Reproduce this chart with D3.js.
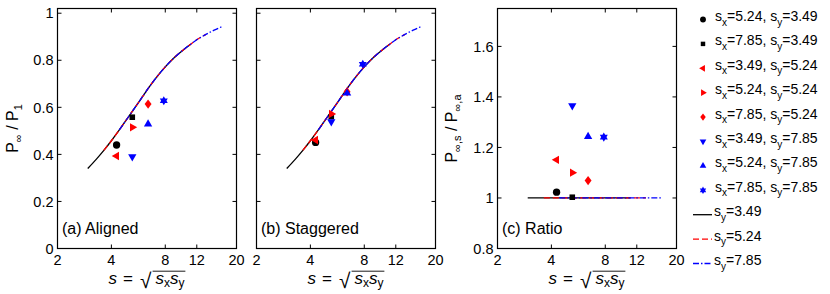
<!DOCTYPE html>
<html>
<head>
<meta charset="utf-8">
<script src="https://cdn.jsdelivr.net/npm/d3@7"></script>
<style>
    html, body { margin: 0; padding: 0; background: #fff; }
    svg { display: block; }
    text { font-family: "Liberation Sans", Arial, Helvetica, sans-serif; fill: #000; }
</style>
</head>
<body>
<div id="chart"></div>
<script>
// measured cases (one entry per marker)
const sx = [5.24, 7.85, 3.49, 5.24, 7.85, 3.49, 5.24, 7.85];
const sy = [3.49, 3.49, 5.24, 5.24, 5.24, 7.85, 7.85, 7.85];
const pAligned = [0.44, 0.558, 0.393, 0.515, 0.614, 0.39, 0.529, 0.628];
const pStaggered = [0.451, 0.56, 0.461, 0.572, 0.666, 0.539, 0.66, 0.783];
const pRatio = [1.023, 1.003, 1.151, 1.10, 1.069, 1.365, 1.243, 1.241];
const markerShapes = ['circle', 'square', 'left', 'right', 'diamond', 'down', 'up', 'hexagram'];
const markerColors = ['#000', '#000', '#f00', '#f00', '#f00', '#00f', '#00f', '#00f'];

// model curve (same for aligned and staggered), ratio of the two is 1
const curveS = [2.95, 3.3, 3.63, 4.0, 4.43, 5.0, 5.5, 6.0, 6.5, 7.0, 8.0, 9.0, 10, 11.05, 12, 13.5, 15, 16.5];
const curveP = [0.34, 0.38, 0.417, 0.458, 0.504, 0.561, 0.606, 0.648, 0.686, 0.719, 0.772, 0.812, 0.842, 0.867, 0.887, 0.91, 0.928, 0.942];
const curveRatio = [1, 1, 1, 1, 1, 1, 1, 1, 1, 1, 1, 1, 1, 1, 1, 1, 1, 1];
const curveSy = ['3.49', '5.24', '7.85'];
const curveRanges = [[2.95, 11.05], [3.63, 13.5], [4.43, 16.5]];
const curveColors = ['#000', '#f00', '#00f'];
const curveDash = [null, '6,3', '6,2,1.5,2'];

const xTicks = [2, 4, 8, 12, 20];
const yTicksP = [0, 0.2, 0.4, 0.6, 0.8, 1];
const yTicksR = [0.8, 1, 1.2, 1.4, 1.6];

const width = 830, height = 294;
const plotTop = 8.5, plotBottom = 248.5;

const svg = d3.select('#chart').append('svg')
    .attr('width', width)
    .attr('height', height);

const measure = document.createElement('canvas').getContext('2d');

const diamond = {
    draw(ctx, s) {
        ctx.moveTo(0, -s);
        ctx.lineTo(s * 0.75, 0);
        ctx.lineTo(0, s);
        ctx.lineTo(-s * 0.75, 0);
        ctx.closePath();
    }
};
const hexagram = {
    draw(ctx, s) {
        for (let i = 0; i < 12; i++) {
            const a = i * Math.PI / 6 - Math.PI / 2;
            const r = i % 2 ? s / Math.sqrt(3) : s;
            if (i === 0) ctx.moveTo(r * Math.cos(a), r * Math.sin(a));
            else ctx.lineTo(r * Math.cos(a), r * Math.sin(a));
        }
        ctx.closePath();
    }
};

function markerPath(shape, k) {
    switch (shape) {
        case 'circle': return d3.symbol(d3.symbolCircle, 42 * k * k)();
        case 'square': return d3.symbol(d3.symbolSquare, 31 * k * k)();
        case 'diamond': return d3.symbol(diamond, 4.6 * k)();
        case 'hexagram': return d3.symbol(hexagram, 4.6 * k)();
        default: return d3.symbol(d3.symbolTriangle, 30 * k * k)();
    }
}
const markerRotate = {left: -90, right: 90, down: 180, up: 0};

// s = sqrt(s_x s_y), laid out piece by piece
function drawXLabel(g, cx) {
    const serif = '"Liberation Serif", "DejaVu Serif", serif';
    const radFont = '"DejaVu Serif", serif';
    const baseY = 284;
    const xl = g.append('g');

    const s1 = xl.append('text').attr('x', 0).attr('y', baseY)
        .attr('font-family', serif).attr('font-size', 17).attr('font-style', 'italic').text('s');
    let cur = s1.node().getComputedTextLength() + 6;

    const eq = xl.append('text').attr('x', cur).attr('y', baseY)
        .attr('font-family', serif).attr('font-size', 17).text('=');
    cur += eq.node().getComputedTextLength() + 7;

    // size the root sign so its font box starts just under the tick labels
    measure.font = `100px ${radFont}`;
    const m = measure.measureText('\u221A');
    const fAsc = m.fontBoundingBoxAscent / 100;
    const gAsc = m.actualBoundingBoxAscent / 100;
    const gDesc = m.actualBoundingBoxDescent / 100;
    const radSize = 20 / (fAsc + gDesc);
    const radBase = 268.4 + fAsc * radSize;
    const barY = radBase - gAsc * radSize + 0.5;
    xl.append('text').attr('x', cur).attr('y', radBase)
        .attr('font-family', radFont).attr('font-size', radSize).text('\u221A');
    const radRight = cur + m.actualBoundingBoxRight / 100 * radSize;

    const t3 = xl.append('text').attr('x', radRight + 2).attr('y', baseY)
        .attr('font-family', serif).attr('font-size', 17);
    t3.append('tspan').attr('font-style', 'italic').text('s');
    t3.append('tspan').attr('font-size', 12).attr('dy', 2.5).text('x');
    t3.append('tspan').attr('font-style', 'italic').attr('dy', -2.5).text('s');
    t3.append('tspan').attr('font-size', 12).attr('dy', 2.5).text('y');
    const w3 = t3.node().getComputedTextLength();
    xl.append('line')
        .attr('x1', radRight - 0.8).attr('x2', radRight + w3 + 3)
        .attr('y1', barY).attr('y2', barY)
        .attr('stroke', '#000').attr('stroke-width', 0.9);
    const total = radRight + w3 + 3;
    xl.attr('transform', `translate(${cx - total / 2},0)`);
}

function drawPanel(opts) {
    const x = d3.scaleLog().domain([2, 20]).range([opts.left, opts.left + 179]);
    const y = d3.scaleLinear().domain(opts.yDomain).range([plotBottom, plotTop]);
    const g = svg.append('g');

    // curves
    curveSy.forEach((label, i) => {
        const pts = curveS.map((s, j) => ({s: s, v: opts.curve[j]}))
            .filter(d => d.s >= curveRanges[i][0] - 1e-9 && d.s <= curveRanges[i][1] + 1e-9);
        g.append('path')
            .attr('d', d3.line().x(d => x(d.s)).y(d => y(d.v)).curve(d3.curveMonotoneX)(pts))
            .attr('fill', 'none')
            .attr('stroke', curveColors[i])
            .attr('stroke-width', 1.3)
            .attr('stroke-dasharray', curveDash[i]);
    });

    // markers
    opts.values.forEach((v, i) => {
        const s = Math.sqrt(sx[i] * sy[i]);
        const rot = markerRotate[markerShapes[i]];
        g.append('path')
            .attr('d', markerPath(markerShapes[i], 1))
            .attr('transform', `translate(${x(s)},${y(v)})` + (rot ? ` rotate(${rot})` : ''))
            .attr('fill', markerColors[i]);
    });

    // box + inward ticks
    const [x0, x1] = x.range();
    g.append('rect')
        .attr('x', x0).attr('y', plotTop)
        .attr('width', x1 - x0).attr('height', plotBottom - plotTop)
        .attr('fill', 'none').attr('stroke', '#000').attr('stroke-width', 1.2);

    xTicks.forEach(t => {
        const px = x(t);
        g.append('line').attr('x1', px).attr('x2', px).attr('y1', plotBottom).attr('y2', plotBottom - 4)
            .attr('stroke', '#000');
        g.append('line').attr('x1', px).attr('x2', px).attr('y1', plotTop).attr('y2', plotTop + 4)
            .attr('stroke', '#000');
        g.append('text').attr('x', px).attr('y', 265)
            .attr('text-anchor', 'middle').attr('font-size', 14.5).text(t);
    });
    opts.yTicks.forEach(t => {
        const py = y(t);
        g.append('line').attr('x1', x0).attr('x2', x0 + 4).attr('y1', py).attr('y2', py)
            .attr('stroke', '#000');
        g.append('line').attr('x1', x1).attr('x2', x1 - 4).attr('y1', py).attr('y2', py)
            .attr('stroke', '#000');
        if (opts.yLabels) {
            g.append('text').attr('x', x0 - 4).attr('y', py).attr('dy', '0.36em')
                .attr('text-anchor', 'end').attr('font-size', 14.5).text(t);
        }
    });

    // panel label
    g.append('text').attr('x', x0 + 4.5).attr('y', 233.5)
        .attr('font-size', 16).text(opts.label);

    drawXLabel(g, (x0 + x1) / 2);

    // y label
    if (opts.yTitle) {
        const yt = g.append('text')
            .attr('transform', `translate(${opts.yTitleX},${(plotTop + plotBottom) / 2}) rotate(-90)`)
            .attr('text-anchor', 'middle').attr('font-size', 16);
        opts.yTitle.forEach(part => {
            const ts = yt.append('tspan').text(part.t);
            if (part.sub) ts.attr('font-size', 11).attr('dy', part.dy);
            else if (part.dy) ts.attr('dy', part.dy);
        });
    }
}

drawPanel({
    left: 57.5, yDomain: [0, 1.02], yTicks: yTicksP, yLabels: true,
    values: pAligned, curve: curveP, label: '(a) Aligned',
    yTitleX: 18,
    yTitle: [{t: 'P'}, {t: '\u221E', sub: true, dy: 4}, {t: ' / P', dy: -4}, {t: '1', sub: true, dy: 4}]
});
drawPanel({
    left: 256.5, yDomain: [0, 1.02], yTicks: yTicksP, yLabels: false,
    values: pStaggered, curve: curveP, label: '(b) Staggered'
});
drawPanel({
    left: 497.5, yDomain: [0.8, 1.75], yTicks: yTicksR, yLabels: true,
    values: pRatio, curve: curveRatio, label: '(c) Ratio',
    yTitleX: 457,
    yTitle: [{t: 'P'}, {t: '\u221E,s', sub: true, dy: 4}, {t: ' / P', dy: -4}, {t: '\u221E,a', sub: true, dy: 4}]
});

// legend
const legend = svg.append('g');
const rowY = i => 19.5 + i * 24.4;
markerShapes.forEach((shape, i) => {
    const rot = markerRotate[shape];
    legend.append('path')
        .attr('d', markerPath(shape, 0.8))
        .attr('transform', `translate(703,${rowY(i)})` + (rot ? ` rotate(${rot})` : ''))
        .attr('fill', markerColors[i]);
    const t = legend.append('text').attr('x', 715).attr('y', rowY(i) + 1.5).attr('font-size', 14);
    t.append('tspan').text('s');
    t.append('tspan').attr('font-size', 10).attr('dy', 4.5).text('x');
    t.append('tspan').attr('dy', -4.5).text(`=${sx[i].toFixed(2)}, s`);
    t.append('tspan').attr('font-size', 10).attr('dy', 4.5).text('y');
    t.append('tspan').attr('dy', -4.5).text(`=${sy[i].toFixed(2)}`);
});
curveSy.forEach((label, i) => {
    const yy = rowY(8 + i);
    legend.append('line')
        .attr('x1', 693).attr('x2', 712).attr('y1', yy).attr('y2', yy)
        .attr('stroke', curveColors[i]).attr('stroke-width', 1.3)
        .attr('stroke-dasharray', curveDash[i]);
    const t = legend.append('text').attr('x', 714).attr('y', yy + 1.5).attr('font-size', 14);
    t.append('tspan').text('s');
    t.append('tspan').attr('font-size', 10).attr('dy', 4.5).text('y');
    t.append('tspan').attr('dy', -4.5).text(`=${label}`);
});
</script>
</body>
</html>
